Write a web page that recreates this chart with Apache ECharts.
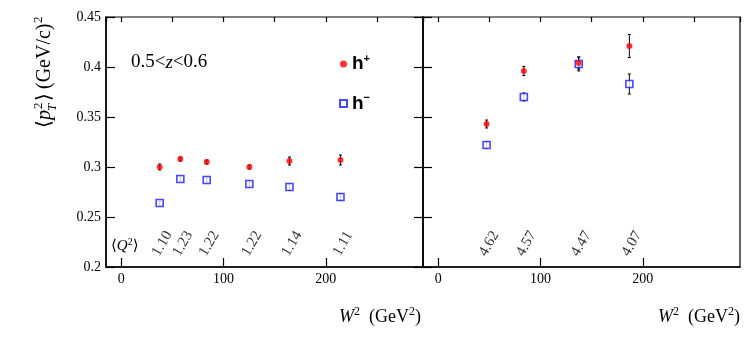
<!DOCTYPE html>
<html>
<head>
<meta charset="utf-8">
<script src="https://cdn.jsdelivr.net/npm/echarts@6/dist/echarts.min.js"></script>
<style>
  body, html { margin: 0; padding: 0; width: 100%; height: 100%; overflow: hidden; background: #fff; }
  #chart { width: 747px; height: 357px; }
</style>
</head>
<body>
<div id="chart"></div>
<script>
// left panel (low Q2)
var w2Left = [37.5, 57.7, 83.5, 125.2, 164.4, 214.3];
var hPlusLeft = [0.300, 0.308, 0.305, 0.300, 0.306, 0.307];
var hPlusLeftErr = [0.003, 0.002, 0.002, 0.002, 0.004, 0.005];
var hMinusLeft = [0.264, 0.288, 0.287, 0.283, 0.280, 0.270];
var hMinusLeftErr = [0.002, 0.002, 0.002, 0.002, 0.003, 0.003];
var q2Left = ['1.10', '1.23', '1.22', '1.22', '1.14', '1.11'];

// right panel (high Q2)
var w2Right = [47.2, 83.6, 137.3, 186.8];
var hPlusRight = [0.343, 0.396, 0.404, 0.421];
var hPlusRightErr = [0.004, 0.0045, 0.006, 0.0115];
var hMinusRight = [0.322, 0.370, 0.403, 0.383];
var hMinusRightErr = [0.003, 0.004, 0.007, 0.010];
var q2Right = ['4.62', '4.57', '4.47', '4.07'];

var serif = 'Liberation Serif';
var red = '#ff0000';
var blue = '#1a1aff';

function pts(xs, ys) {
  return xs.map(function (x, i) { return [x, ys[i]]; });
}
function errPts(xs, ys, es) {
  return xs.map(function (x, i) { return [x, ys[i], es[i]]; });
}
function renderErr(params, api) {
  var x = api.value(0), y = api.value(1), e = api.value(2);
  var hi = api.coord([x, y + e]);
  var lo = api.coord([x, y - e]);
  var st = { stroke: '#000', lineWidth: 1 };
  return {
    type: 'group',
    children: [
      { type: 'line', shape: { x1: hi[0], y1: hi[1], x2: lo[0], y2: lo[1] }, style: st },
      { type: 'line', shape: { x1: hi[0] - 1.5, y1: hi[1], x2: hi[0] + 1.5, y2: hi[1] }, style: st },
      { type: 'line', shape: { x1: lo[0] - 1.5, y1: lo[1], x2: lo[0] + 1.5, y2: lo[1] }, style: st }
    ]
  };
}

function xMajor(g) {
  return {
    gridIndex: g, type: 'value', min: -15, max: 295, splitNumber: 3,
    axisLine: { onZero: false, lineStyle: { color: '#000', width: 1.5 } },
    axisTick: { inside: true, length: 9, lineStyle: { color: '#000', width: 1.2 } },
    axisLabel: { showMinLabel: false, showMaxLabel: false, margin: 5, color: '#000', fontFamily: serif, fontSize: 14 },
    splitLine: { show: false }
  };
}
function xMinor(g) {
  return {
    gridIndex: g, type: 'value', min: -15, max: 295, splitNumber: 6,
    axisLine: { show: false, onZero: false },
    axisTick: { inside: true, length: 5, lineStyle: { color: '#000', width: 1.2 } },
    axisLabel: { show: false },
    splitLine: { show: false }
  };
}
function yAx(g, pos, labels, ticks, line, lineColor) {
  return {
    gridIndex: g, type: 'value', position: pos, min: 0.2, max: 0.45, interval: 0.05,
    axisLine: { show: line, onZero: false, lineStyle: { color: lineColor, width: 1.5 } },
    axisTick: { show: ticks, inside: true, length: 9, lineStyle: { color: '#000', width: 1.2 } },
    axisLabel: { show: labels, margin: 5, color: '#000', fontFamily: serif, fontSize: 14 },
    splitLine: { show: false }
  };
}

var circleStyle = { color: red };
var squareStyle = { color: '#fff', borderColor: blue, borderWidth: 1.6 };

function q2Series(xi, yi, xs, labels) {
  return {
    type: 'scatter', xAxisIndex: xi, yAxisIndex: yi, symbolSize: 0, silent: true, z: 5,
    data: xs.map(function (x) { return [x, 0.2]; }),
    label: {
      show: true, position: 'inside', rotate: 60, offset: [21.5, -9.5],
      formatter: function (p) { return labels[p.dataIndex]; },
      color: '#000', fontFamily: serif, fontSize: 15
    }
  };
}

var supRich = {
  n: { fontFamily: serif, fontSize: 18, color: '#000', lineHeight: 22 },
  i: { fontFamily: serif, fontSize: 18, fontStyle: 'italic', color: '#000', lineHeight: 22 },
  s: { fontFamily: serif, fontSize: 12, color: '#000', verticalAlign: 'top', lineHeight: 22 }
};

var titleFont = '20px "Liberation Serif", "DejaVu Serif"';
var supFont = '13px "Liberation Serif"';

var option = {
  animation: false,
  backgroundColor: '#fff',
  grid: [
    { left: 106, top: 17, width: 317, height: 250, show: true, borderColor: '#000', borderWidth: 1.2 },
    { left: 423, top: 17, width: 317, height: 250, show: true, borderColor: '#000', borderWidth: 1.2 }
  ],
  xAxis: [xMajor(0), xMinor(0), xMajor(1), xMinor(1)],
  yAxis: [
    yAx(0, 'left', true, true, true, '#000'),
    yAx(0, 'right', false, true, true, '#000'),
    yAx(1, 'left', false, true, false, '#000'),
    yAx(1, 'right', false, false, true, '#666')
  ],
  legend: {
    data: ['h+', 'h-'], orient: 'vertical', left: 334, top: 48, itemGap: 19,
    itemWidth: 7, itemHeight: 7, selectedMode: false,
    formatter: function (n) { return n === 'h+' ? '{h|h}{s|+}' : '{h|h}{s|\u2212}'; },
    textStyle: {
      rich: {
        h: { fontFamily: 'Liberation Sans', fontWeight: 'bold', fontSize: 19, color: '#000', lineHeight: 22 },
        s: { fontFamily: 'Liberation Sans', fontWeight: 'bold', fontSize: 11, color: '#000', verticalAlign: 'top', lineHeight: 22 }
      }
    }
  },
  series: [
    { type: 'custom', xAxisIndex: 0, yAxisIndex: 0, renderItem: renderErr, data: errPts(w2Left, hMinusLeft, hMinusLeftErr), silent: true },
    { type: 'custom', xAxisIndex: 0, yAxisIndex: 0, renderItem: renderErr, data: errPts(w2Left, hPlusLeft, hPlusLeftErr), silent: true },
    { type: 'custom', xAxisIndex: 2, yAxisIndex: 2, renderItem: renderErr, data: errPts(w2Right, hMinusRight, hMinusRightErr), silent: true },
    { type: 'custom', xAxisIndex: 2, yAxisIndex: 2, renderItem: renderErr, data: errPts(w2Right, hPlusRight, hPlusRightErr), silent: true },
    { name: 'h-', type: 'scatter', xAxisIndex: 0, yAxisIndex: 0, symbol: 'rect', symbolSize: 7, itemStyle: squareStyle, data: pts(w2Left, hMinusLeft) },
    { name: 'h-', type: 'scatter', xAxisIndex: 2, yAxisIndex: 2, symbol: 'rect', symbolSize: 7, itemStyle: squareStyle, data: pts(w2Right, hMinusRight) },
    { name: 'h+', type: 'scatter', xAxisIndex: 0, yAxisIndex: 0, symbol: 'circle', symbolSize: 6, itemStyle: circleStyle, data: pts(w2Left, hPlusLeft) },
    { name: 'h+', type: 'scatter', xAxisIndex: 2, yAxisIndex: 2, symbol: 'circle', symbolSize: 6, itemStyle: circleStyle, data: pts(w2Right, hPlusRight) },
    q2Series(0, 0, w2Left, q2Left),
    q2Series(2, 2, w2Right, q2Right)
  ],
  graphic: [
    { type: 'text', left: 131, top: 53, style: { text: '0.5<{i|z}<0.6', font: '19px "Liberation Serif"', fill: '#000',
        rich: { i: { fontFamily: serif, fontStyle: 'italic', fontSize: 19 } } } },
    { type: 'text', left: 111, top: 237, style: { text: '{n|\u27e8}{i|Q}{s|2}{n|\u27e9}', rich: {
        n: { fontFamily: serif + ', DejaVu Serif', fontSize: 15, color: '#000', lineHeight: 18 },
        i: { fontFamily: serif, fontSize: 15, fontStyle: 'italic', color: '#000', lineHeight: 18 },
        s: { fontFamily: serif, fontSize: 10, color: '#000', verticalAlign: 'top', lineHeight: 18 } } } },
    { type: 'text', right: 747 - 421, top: 306, style: { text: '{i|W}{s|2}{n|  (GeV}{s|2}{n|)}', rich: supRich } },
    { type: 'text', right: 7, top: 306, style: { text: '{i|W}{s|2}{n|  (GeV}{s|2}{n|)}', rich: supRich } },
    {
      type: 'group', x: 55, y: 128, rotation: Math.PI / 2,
      children: [
        { type: 'text', x: 0, y: 0, style: { text: '\u27e8', font: titleFont, fill: '#000', textVerticalAlign: 'bottom' } },
        { type: 'text', x: 8, y: 0, style: { text: 'p', font: 'italic ' + titleFont, fill: '#000', textVerticalAlign: 'bottom' } },
        { type: 'text', x: 19, y: -10, style: { text: '2', font: supFont, fill: '#000', textVerticalAlign: 'bottom' } },
        { type: 'text', x: 17, y: 4, style: { text: 'T', font: 'italic ' + supFont, fill: '#000', textVerticalAlign: 'bottom' } },
        { type: 'text', x: 27, y: 0, style: { text: '\u27e9', font: titleFont, fill: '#000', textVerticalAlign: 'bottom' } },
        { type: 'text', x: 39, y: 0, style: { text: '(GeV/c)', font: titleFont, fill: '#000', textVerticalAlign: 'bottom' } },
        { type: 'text', x: 105, y: -10, style: { text: '2', font: supFont, fill: '#000', textVerticalAlign: 'bottom' } }
      ]
    }
  ]
};

var chart = echarts.init(document.getElementById('chart'));
chart.setOption(option);
</script>
</body>
</html>
